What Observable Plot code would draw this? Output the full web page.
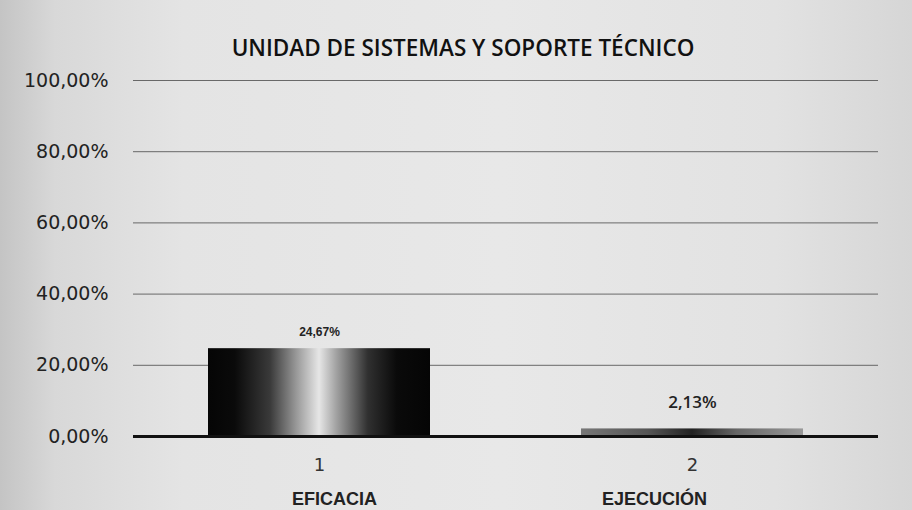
<!DOCTYPE html>
<html>
<head>
<meta charset="utf-8">
<script src="https://cdn.jsdelivr.net/npm/d3@7"></script>
<script src="https://cdn.jsdelivr.net/npm/@observablehq/plot@0.6"></script>
<style>
  html, body { margin: 0; padding: 0; }
  body {
    width: 912px; height: 510px; overflow: hidden;
    background: linear-gradient(to right, #c4c4c4 0%, #d8d8d8 6%, #e4e4e4 20%, #e8e8e8 55%, #e2e2e2 85%, #d6d6d6 100%);
  }
  #chart svg { display: block; background: transparent; }
</style>
</head>
<body>
<div id="chart"></div>
<script>
const title = "UNIDAD DE SISTEMAS Y SOPORTE TÉCNICO";
const indices = ["1", "2"];
const categories = ["EFICACIA", "EJECUCIÓN"];
const values = [24.67, 2.13];
const yTicks = [0, 20, 40, 60, 80, 100];
const valueLabels = ["24,67%", "2,13%"];

const data = indices.map((k, i) => ({key: k, name: categories[i], value: values[i], label: valueLabels[i]}));
const fmt = d => d.toFixed(2).replace(".", ",") + "%";

const defs = () => {
  const ns = "http://www.w3.org/2000/svg";
  const g = document.createElementNS(ns, "defs");
  g.innerHTML = `
    <linearGradient id="barGrad" x1="0" x2="1" y1="0" y2="0">
      <stop offset="0" stop-color="#050505"/>
      <stop offset="0.12" stop-color="#0a0a0a"/>
      <stop offset="0.28" stop-color="#3a3a3a"/>
      <stop offset="0.40" stop-color="#9a9a9a"/>
      <stop offset="0.50" stop-color="#e6e6e6"/>
      <stop offset="0.58" stop-color="#a0a0a0"/>
      <stop offset="0.72" stop-color="#303030"/>
      <stop offset="0.85" stop-color="#0a0a0a"/>
      <stop offset="1" stop-color="#050505"/>
    </linearGradient>
    <linearGradient id="barGrad2" x1="0" x2="1" y1="0" y2="0">
      <stop offset="0" stop-color="#777"/>
      <stop offset="0.3" stop-color="#555"/>
      <stop offset="0.5" stop-color="#222"/>
      <stop offset="0.7" stop-color="#666"/>
      <stop offset="1" stop-color="#999"/>
    </linearGradient>`;
  return g;
};

const nameFont = {fontSize: 18, fontWeight: "bold", fill: "#222", fontFamily: "'Liberation Sans', Arial, sans-serif", frameAnchor: "bottom", lineAnchor: "middle", dy: 63, text: "name", x: "key"};

const plot = Plot.plot({
  width: 912,
  height: 510,
  marginLeft: 133,
  marginRight: 34,
  marginTop: 80,
  marginBottom: 74,
  style: {background: "transparent", fontFamily: "'DejaVu Sans', sans-serif", color: "#222"},
  x: {domain: indices, paddingInner: 0.406, paddingOuter: 0.2, label: null},
  y: {domain: [0, 100], label: null},
  marks: [
    defs,
    Plot.ruleY(yTicks.filter(d => d > 0), {stroke: "#4a4a4a", strokeWidth: 1, strokeOpacity: 0.8}),
    Plot.barY(data, {x: "key", y: "value", fill: (d, i) => i === 0 ? "url(#barGrad)" : "url(#barGrad2)"}),
    Plot.ruleY([0], {stroke: "#111", strokeWidth: 3}),
    Plot.axisY({ticks: yTicks, tickFormat: fmt, tickSize: 0, tickPadding: 25, fontSize: 19, fill: "#222", fontFamily: "'DejaVu Sans', sans-serif", label: null}),
    Plot.axisX({tickSize: 0, tickPadding: 22, fontSize: 18, fill: "#333", fontFamily: "'DejaVu Sans', sans-serif", label: null}),
    Plot.text(data.slice(0, 1), {...nameFont, dx: 15}),
    Plot.text(data.slice(1), {...nameFont, dx: -38}),
    Plot.text(data.slice(0, 1), {x: "key", y: "value", text: "label", dy: -17, fontWeight: "bold", fontSize: 12, fill: "#222", fontFamily: "'Liberation Sans', Arial, sans-serif"}),
    Plot.text(data.slice(1), {x: "key", y: "value", text: "label", dy: -26, fontWeight: 600, fontSize: 17, fill: "#222", fontFamily: "'Open Sans', sans-serif"}),
    Plot.text([title], {frameAnchor: "top", lineAnchor: "middle", dx: -43, dy: -32, text: d => d, fontSize: 22.5, fontWeight: 600, fill: "#111", fontFamily: "'Open Sans', sans-serif"})
  ]
});
document.getElementById("chart").appendChild(plot);
</script>
</body>
</html>
